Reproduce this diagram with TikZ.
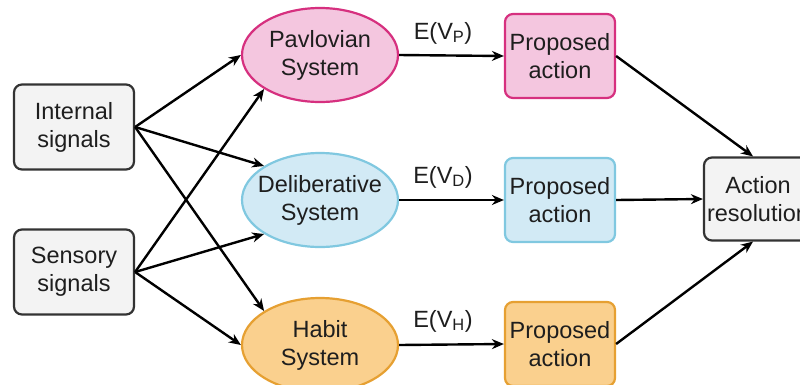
\documentclass[tikz,border=0pt]{standalone}
\usepackage{fontspec}
\setmainfont{Liberation Sans}
\usetikzlibrary{shapes.geometric,arrows.meta}
\definecolor{pinkfill}{HTML}{F4C6DF}
\definecolor{pinkdraw}{HTML}{D6307F}
\definecolor{bluefill}{HTML}{D2EAF5}
\definecolor{bluedraw}{HTML}{80C8E0}
\definecolor{orangefill}{HTML}{FAD08E}
\definecolor{orangedraw}{HTML}{E6A032}
\definecolor{grayfill}{HTML}{F3F3F3}
\definecolor{graydraw}{HTML}{333333}
\definecolor{txt}{HTML}{1E1E1E}
\tikzset{
  base/.style={font=\fontsize{23.5}{28}\selectfont, text=txt, align=center, inner sep=0pt, line width=2.2pt},
  graybox/.style={base, rectangle, rounded corners=8pt, draw=graydraw, fill=grayfill, minimum width=120pt, minimum height=85pt},
  sysell/.style={base, ellipse, inner xsep=-14pt, minimum width=156pt, minimum height=94pt},
  propbox/.style={base, rectangle, rounded corners=8pt, minimum width=110pt, minimum height=84pt},
  conn/.style={line width=2.4pt, draw=black, -{Stealth[length=12pt,width=10pt]}},
  lbl/.style={font=\fontsize{23.5}{28}\selectfont, text=txt, inner sep=0pt}
}
\begin{document}
\begin{tikzpicture}[x=1pt,y=-1pt]
\useasboundingbox (0,0) rectangle (800,384);
\node[graybox] (int) at (74,127) {Internal\\signals};
\node[graybox] (sen) at (74,272) {Sensory\\signals};
\node[sysell, draw=pinkdraw, fill=pinkfill] (pav) at (320,55) {Pavlovian\\System};
\node[sysell, draw=bluedraw, fill=bluefill] (del) at (320,200) {Deliberative\\System};
\node[sysell, draw=orangedraw, fill=orangefill] (hab) at (320,345) {Habit\\System};
\node[propbox, draw=pinkdraw, fill=pinkfill] (pp) at (560,56) {Proposed\\action};
\node[propbox, draw=bluedraw, fill=bluefill] (dp) at (560,200) {Proposed\\action};
\node[propbox, draw=orangedraw, fill=orangefill] (hp) at (560,344) {Proposed\\action};
\node[propbox, draw=graydraw, fill=grayfill, minimum width=108pt, minimum height=83pt] (ar) at (758,199) {Action\\resolution};
\node[lbl] (lp) at (443,33) {E(V\textsubscript{P})};
\node[lbl] (ld) at (443,177) {E(V\textsubscript{D})};
\node[lbl] (lh) at (443,321) {E(V\textsubscript{H})};
\draw[conn] (int.east) -- (pav.west);
\draw[conn] (int.east) -- (del.north west);
\draw[conn] (int.east) -- (hab.north west);
\draw[conn] (sen.east) -- (pav.south west);
\draw[conn] (sen.east) -- (del.south west);
\draw[conn] (sen.east) -- (hab.west);
\draw[conn] (pav.east) -- (pp.west);
\draw[conn] (del.east) -- (dp.west);
\draw[conn] (hab.east) -- (hp.west);
\draw[conn] (pp.east) -- ([xshift=-5pt]ar.north);
\draw[conn] (dp.east) -- (ar.west);
\draw[conn] (hp.east) -- ([xshift=-5pt]ar.south);
\end{tikzpicture}
\end{document}
